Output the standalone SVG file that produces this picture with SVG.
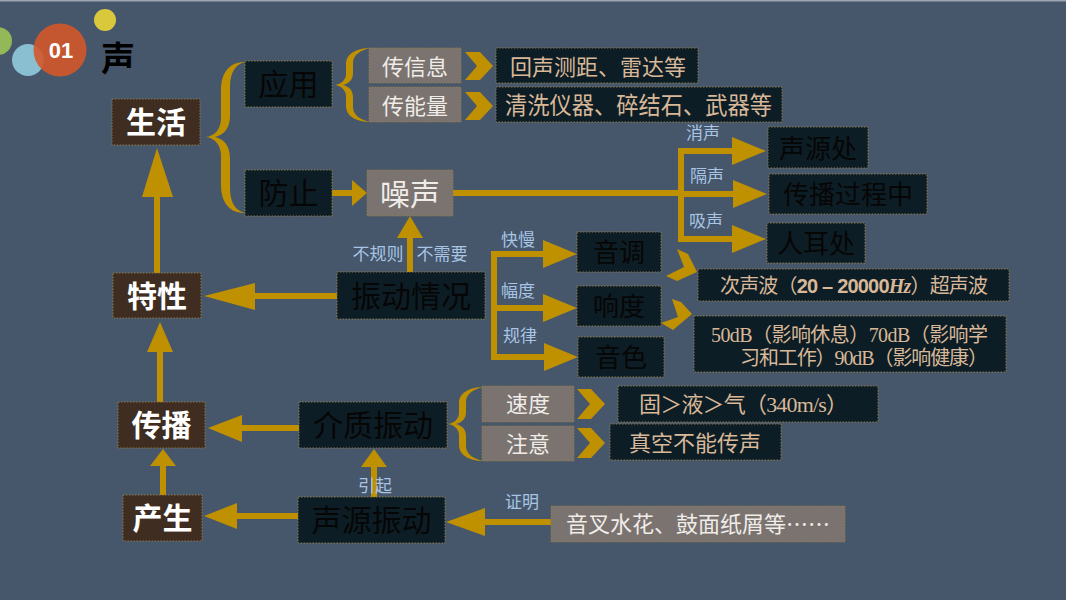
<svg xmlns="http://www.w3.org/2000/svg" width="1066" height="600" viewBox="0 0 1066 600">
<style>
.bx{stroke:#8C7A48;stroke-width:1;stroke-dasharray:1.5 1.5}
.brown{fill:#3E2D20}
.dark{fill:#0D1D25}
.gray{fill:#7A7370}
.tw{font-family:"Noto Sans CJK SC",sans-serif;font-weight:bold;fill:#FFFFFF;font-size:30px;text-anchor:middle}
.td{font-family:"Liberation Serif","Noto Sans CJK SC",serif;fill:#060606;text-anchor:middle}
.tg{font-family:"Liberation Serif","Noto Sans CJK SC",serif;fill:#F0ECE8;text-anchor:middle}
.tgs{font-family:"Liberation Serif","Noto Sans CJK SC",serif;fill:#F0ECE8}
.tp{font-family:"Liberation Serif","Noto Sans CJK SC",serif;fill:#D8B898}
.lb{font-family:"Noto Sans CJK SC",sans-serif;fill:#A8C5E4;font-size:17px;text-anchor:middle}
.ln{stroke:#BF9000;stroke-width:6;fill:none}
.gd{fill:#BF9000}
</style>
<rect x="0" y="0" width="1066" height="600" fill="#46566B"/>
<rect x="0" y="0" width="1066" height="1.5" fill="#9AA3AF"/>

<g id="title">
<circle cx="-2" cy="41" r="14" fill="#93B857"/>
<circle cx="28" cy="60" r="16" fill="#8ABFD2"/>
<circle cx="60" cy="50" r="26.5" fill="#D2582A" opacity="0.9"/>
<circle cx="105" cy="20" r="11" fill="#D9C83C"/>
<text x="61" y="58" font-family="'Liberation Sans Narrow','Liberation Sans',sans-serif" font-weight="bold" font-size="22" fill="#FFFFFF" text-anchor="middle">01</text>
<text x="101" y="71" font-family="'Noto Sans CJK SC',sans-serif" font-weight="bold" font-size="34" fill="#000000">声</text>
</g>

<g id="connectors">
<path class="gd" d="M245,62 C230,62 221,72 221,90 L221,118 C221,130 214,136 206,137 C214,138 221,144 221,156 L221,185 C221,203 230,213 245,213 C236,211 230,203 230,188 L230,158 C230,146 224,139 215,137 C224,135 230,128 230,116 L230,87 C230,72 236,64 245,62 Z"/>
<path id="brace2" class="gd" d="M370,48 C358,48 346,53 346,64 L346,74 C346,80 341,84 335,85 C341,86 346,90 346,96 L346,106 C346,117 358,122 370,122 C362,120 353,116 353,107 L353,97 C353,91 350,87 343,85 C350,83 353,79 353,73 L353,63 C353,54 362,50 370,48 Z"/>
<path class="gd" transform="translate(113,339)" d="M370,48 C358,48 346,53 346,64 L346,74 C346,80 341,84 335,85 C341,86 346,90 346,96 L346,106 C346,117 358,122 370,122 C362,120 353,116 353,107 L353,97 C353,91 350,87 343,85 C350,83 353,79 353,73 L353,63 C353,54 362,50 370,48 Z"/>
<polygon class="gd" points="465,52 480,52 493,66 480,80 465,80 477,66"/>
<polygon class="gd" points="465,92 480,92 493,106 480,120 465,120 477,106"/>
<polygon class="gd" points="577,389 591,389 605,404 591,419 577,419 590,404"/>
<polygon class="gd" points="577,428 591,428 605,443 591,458 577,458 590,443"/>
<polygon class="gd" points="677,249 688,254 697,272 677,281 666,276 684,267"/>
<polygon class="gd" points="672,299 681,302 692,314 673,330 661,323 678,317"/>

<line class="ln" x1="157" y1="273" x2="157" y2="195"/>
<polygon class="gd" points="157,148 142,197 173,197"/>

<line class="ln" x1="332" y1="193" x2="354" y2="193"/>
<polygon class="gd" points="367,193 352,180 352,206"/>

<polyline class="ln" points="453,193 681,193"/>
<line class="ln" x1="681" y1="148" x2="681" y2="242"/>
<line class="ln" x1="681" y1="151" x2="734" y2="151"/>
<line class="ln" x1="681" y1="194" x2="734" y2="194"/>
<line class="ln" x1="681" y1="239" x2="734" y2="239"/>
<polygon class="gd" points="766,151 732,137 732,165"/>
<polygon class="gd" points="767,194 733,180 733,208"/>
<polygon class="gd" points="766,239 732,225 732,253"/>

<line class="ln" x1="410" y1="272" x2="410" y2="234"/>
<polygon class="gd" points="410,216 397,238 423,238"/>

<line class="ln" x1="494" y1="251" x2="494" y2="360"/>
<line class="ln" x1="494" y1="254" x2="545" y2="254"/>
<line class="ln" x1="494" y1="308" x2="545" y2="308"/>
<line class="ln" x1="494" y1="357" x2="545" y2="357"/>
<polygon class="gd" points="577,254 543,240 543,268"/>
<polygon class="gd" points="577,308 543,294 543,322"/>
<polygon class="gd" points="578,357 544,343 544,371"/>

<line class="ln" x1="337" y1="296" x2="253" y2="296"/>
<polygon class="gd" points="204,296 255,283 255,310"/>

<line class="ln" x1="160" y1="402" x2="160" y2="350"/>
<polygon class="gd" points="160,322 147,352 173,352"/>

<line class="ln" x1="299" y1="428" x2="240" y2="428"/>
<polygon class="gd" points="208,428 242,415 242,442"/>

<line class="ln" x1="163" y1="495" x2="163" y2="464"/>
<polygon class="gd" points="163,449 150,466 176,466"/>

<line class="ln" x1="298" y1="516" x2="235" y2="516"/>
<polygon class="gd" points="204,516 237,503 237,529"/>

<line class="ln" x1="374" y1="497" x2="374" y2="465"/>
<polygon class="gd" points="374,449 361,467 387,467"/>

<line class="ln" x1="551" y1="522" x2="483" y2="522"/>
<polygon class="gd" points="446,522 485,508 485,536"/>

<text class="lb" x="703" y="139">消声</text>
<text class="lb" x="707" y="182">隔声</text>
<text class="lb" x="706" y="227">吸声</text>
<text class="lb" x="378" y="260">不规则</text>
<text class="lb" x="442" y="260">不需要</text>
<text class="lb" x="518" y="246">快慢</text>
<text class="lb" x="518" y="297">幅度</text>
<text class="lb" x="520" y="342">规律</text>
<text class="lb" x="375" y="492">引起</text>
<text class="lb" x="522" y="508">证明</text>
</g>

<g id="n-shenghuo"><rect class="bx brown" x="112" y="99" width="88" height="46"/><text class="tw" x="156" y="133">生活</text></g>
<g id="n-yingyong"><rect class="bx dark" x="245" y="61" width="87" height="46"/><text class="td" x="288.5" y="95" font-size="30">应用</text></g>
<g id="n-fangzhi"><rect class="bx dark" x="245" y="170" width="87" height="46"/><text class="td" x="288.5" y="204" font-size="30">防止</text></g>
<g id="n-chuanxinxi"><rect class="bx gray" x="369" y="48" width="92" height="35"/><text class="tg" x="415" y="75" font-size="22">传信息</text></g>
<g id="n-chuannengliang"><rect class="bx gray" x="369" y="87" width="92" height="35"/><text class="tg" x="415" y="114" font-size="22">传能量</text></g>
<g id="n-huisheng"><rect class="bx dark" x="496" y="48" width="202" height="35"/><text class="tp" x="510" y="75" font-size="22" textLength="176" lengthAdjust="spacingAndGlyphs">回声测距、雷达等</text></g>
<g id="n-qingxi"><rect class="bx dark" x="496" y="87" width="286" height="35"/><text class="tp" x="505" y="114" font-size="24" textLength="267" lengthAdjust="spacingAndGlyphs">清洗仪器、碎结石、武器等</text></g>
<g id="n-zaosheng"><rect class="bx gray" x="367" y="170" width="86" height="46"/><text class="tg" x="410" y="205" font-size="30">噪声</text></g>
<g id="n-shengyuanchu"><rect class="bx dark" x="768" y="127" width="100" height="41"/><text class="td" x="818" y="158" font-size="26">声源处</text></g>
<g id="n-chuanboguocheng"><rect class="bx dark" x="769" y="174" width="158" height="40"/><text class="td" x="848" y="204" font-size="26">传播过程中</text></g>
<g id="n-renerchu"><rect class="bx dark" x="767" y="223" width="98" height="40"/><text class="td" x="816" y="253" font-size="26">人耳处</text></g>
<g id="n-cishengbo"><rect class="bx dark" x="698" y="269" width="311" height="32"/><text class="tp" x="720" y="293" font-size="20" textLength="268" lengthAdjust="spacing">次声波（<tspan font-family="'Liberation Sans',sans-serif" font-weight="bold">20 – 20000</tspan><tspan font-style="italic" font-weight="bold">Hz</tspan>）超声波</text></g>
<g id="n-db"><rect class="bx dark" x="694" y="316" width="312" height="56"/><text class="tp" x="711" y="342" font-size="20" textLength="277" lengthAdjust="spacing">50dB（影响休息）70dB（影响学</text><text class="tp" x="740" y="365" font-size="20" textLength="248" lengthAdjust="spacing">习和工作）90dB（影响健康）</text></g>
<g id="n-zhendongqingkuang"><rect class="bx dark" x="337" y="272" width="148" height="47"/><text class="td" x="411" y="307" font-size="30">振动情况</text></g>
<g id="n-yindiao"><rect class="bx dark" x="577" y="232" width="84" height="40"/><text class="td" x="619" y="262" font-size="26">音调</text></g>
<g id="n-xiangdu"><rect class="bx dark" x="577" y="286" width="84" height="40"/><text class="td" x="619" y="316" font-size="26">响度</text></g>
<g id="n-yinse"><rect class="bx dark" x="578" y="337" width="86" height="40"/><text class="td" x="621" y="367" font-size="26">音色</text></g>
<g id="n-texing"><rect class="bx brown" x="113" y="273" width="88" height="45"/><text class="tw" x="157" y="307">特性</text></g>
<g id="n-chuanbo"><rect class="bx brown" x="118" y="402" width="87" height="46"/><text class="tw" x="161.5" y="436">传播</text></g>
<g id="n-chansheng"><rect class="bx brown" x="123" y="495" width="79" height="46"/><text class="tw" x="162.5" y="529">产生</text></g>
<g id="n-jiezhi"><rect class="bx dark" x="299" y="402" width="148" height="46"/><text class="td" x="373" y="436" font-size="30">介质振动</text></g>
<g id="n-shengyuanzhendong"><rect class="bx dark" x="298" y="497" width="147" height="46"/><text class="td" x="371.5" y="531" font-size="30">声源振动</text></g>
<g id="n-sudu"><rect class="bx gray" x="482" y="386" width="92" height="36"/><text class="tg" x="528" y="412" font-size="22">速度</text></g>
<g id="n-zhuyi"><rect class="bx gray" x="482" y="426" width="92" height="35"/><text class="tg" x="528" y="452" font-size="22">注意</text></g>
<g id="n-gu"><rect class="bx dark" x="618" y="386" width="260" height="36"/><text class="tp" x="639" y="412" font-size="22" textLength="209" lengthAdjust="spacing">固＞液＞气（340m/s）</text></g>
<g id="n-zhenkong"><rect class="bx dark" x="610" y="424" width="171" height="36"/><text class="tp" x="695" y="451" font-size="22" text-anchor="middle">真空不能传声</text></g>
<g id="n-yincha"><rect class="bx gray" x="551" y="506" width="294" height="36"/><text class="tgs" x="566" y="532" font-size="22" textLength="264" lengthAdjust="spacing">音叉水花、鼓面纸屑等<tspan font-family="'Noto Sans CJK SC',sans-serif">……</tspan></text></g>
</svg>
